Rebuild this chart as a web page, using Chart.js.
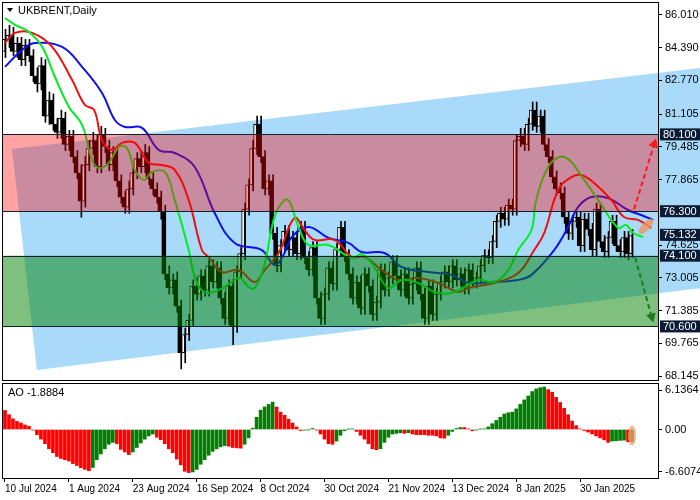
<!DOCTYPE html>
<html><head><meta charset="utf-8">
<script src="https://cdn.jsdelivr.net/npm/chart.js@4"></script>
<style>body{margin:0;background:#fff}#w{position:relative;width:700px;height:500px}canvas{position:absolute;left:0}</style>
</head><body><div id="w"><canvas id="m" width="700" height="382" style="top:0"></canvas><canvas id="a" width="700" height="118" style="top:382px"></canvas></div>
<script>
const title="UKBRENT,Daily";
const openP=[84.2,84.8,85.0,84.2,84.6,83.8,84.5,84.0,83.0,82.6,83.5,81.0,81.8,80.6,80.2,80.9,79.6,80.0,79.0,78.2,76.8,78.6,79.4,79.8,78.5,80.1,79.5,78.6,79.2,77.8,77.0,76.5,77.4,78.2,78.9,78.5,79.2,77.9,77.4,77.0,76.3,73.2,72.5,72.9,71.6,69.3,70.2,70.9,72.6,72.2,73.1,72.4,73.6,72.8,73.5,72.0,71.0,72.6,70.6,73.3,74.2,76.4,77.6,79.4,80.6,79.0,77.4,77.8,75.2,73.6,74.6,75.3,74.4,75.0,74.2,75.5,74.0,73.4,74.5,72.0,71.0,72.2,73.5,72.7,74.4,75.5,74.1,73.2,72.0,72.8,71.5,73.2,72.6,71.2,71.8,73.4,72.4,73.0,73.8,73.1,72.4,73.2,72.0,72.7,73.5,72.2,71.0,72.6,71.2,72.2,72.8,73.3,72.8,73.6,72.9,73.2,72.5,73.4,72.8,73.0,73.6,74.1,74.0,74.8,75.8,76.2,75.9,76.6,76.4,79.8,80.0,79.6,80.6,81.3,80.5,81.0,79.6,79.0,78.0,77.4,77.2,76.0,75.2,75.8,76.0,74.6,75.9,75.4,74.4,76.4,74.8,74.3,75.0,75.8,74.6,74.3,75.0,74.2];
const closeP=[84.8,85.0,84.2,84.6,83.8,84.5,84.0,83.0,82.6,83.5,81.0,81.8,80.6,80.2,80.9,79.6,80.0,79.0,78.2,76.8,78.6,79.4,79.8,78.5,80.1,79.5,78.6,79.2,77.8,77.0,76.5,77.4,78.2,78.9,78.5,79.2,77.9,77.4,77.0,76.3,73.2,72.5,72.9,71.6,69.3,70.2,70.9,72.6,72.2,73.1,72.4,73.6,72.8,73.5,72.0,71.0,72.6,70.6,73.3,74.2,76.4,77.6,79.4,80.6,79.0,77.4,77.8,75.2,73.6,74.6,75.3,74.4,75.0,74.2,75.5,74.0,73.4,74.5,72.0,71.0,72.2,73.5,72.7,74.4,75.5,74.1,73.2,72.0,72.8,71.5,73.2,72.6,71.2,71.8,73.4,72.4,73.0,73.8,73.1,72.4,73.2,72.0,72.7,73.5,72.2,71.0,72.6,71.2,72.2,72.8,73.3,72.8,73.6,72.9,73.2,72.5,73.4,72.8,73.0,73.6,74.1,74.0,74.8,75.8,76.2,75.9,76.6,76.4,79.8,80.0,79.6,80.6,81.3,80.5,81.0,79.6,79.0,78.0,77.4,77.2,76.0,75.2,75.8,76.0,74.6,75.9,75.4,74.4,76.4,74.8,74.3,75.0,75.8,74.6,74.3,75.0,74.2,75.1];
const highP=[85.3,85.5,85.4,84.9,84.9,84.8,84.8,84.3,83.4,83.9,83.8,82.2,82.1,80.9,81.3,81.2,80.3,80.3,79.3,78.6,79.0,79.8,80.2,80.1,80.5,80.4,79.8,79.5,79.5,78.1,77.3,77.8,78.6,79.2,79.3,79.6,79.5,78.2,77.7,77.3,76.6,73.6,73.2,73.3,71.9,70.5,71.2,72.9,73.0,73.4,73.4,73.9,73.9,73.8,73.8,72.3,72.9,72.9,73.6,74.5,76.7,77.9,79.8,81.0,81.0,79.3,78.1,78.1,75.5,74.9,75.6,75.6,75.3,75.3,75.8,75.8,74.3,74.8,74.8,72.3,72.5,73.8,73.8,74.7,75.8,75.8,74.4,73.5,73.1,73.1,73.5,73.5,72.9,72.1,73.7,73.7,73.3,74.1,74.1,73.4,73.5,73.5,73.0,73.8,73.8,72.5,72.9,72.9,72.5,73.1,73.6,73.6,73.9,73.9,73.5,73.5,73.7,73.7,73.3,73.9,74.4,74.4,75.1,76.1,76.5,76.5,76.9,76.9,80.1,80.4,80.4,80.9,81.7,81.7,81.3,81.3,79.9,79.3,78.3,77.7,77.5,76.3,76.1,76.3,76.3,76.2,76.2,75.7,76.7,76.7,75.1,75.3,76.1,76.1,74.9,75.3,75.3,75.4];
const lowP=[83.9,84.4,84.0,83.9,83.5,83.5,83.7,82.7,82.2,82.3,80.7,80.6,80.3,79.9,79.9,79.3,79.3,78.7,77.9,76.0,76.5,78.3,79.1,78.2,78.2,79.2,78.3,78.3,77.5,76.7,76.2,76.2,77.1,77.9,78.2,78.2,77.6,77.1,76.7,75.9,72.9,72.2,72.2,71.3,68.5,68.8,69.9,70.6,71.9,71.9,72.1,72.1,72.5,72.5,71.7,70.7,70.7,69.7,70.3,73.0,73.9,76.1,77.3,79.1,78.7,77.1,77.1,74.9,73.3,73.3,74.3,74.1,74.1,73.9,73.9,73.7,73.1,73.1,71.7,70.7,70.7,71.9,72.4,72.4,74.1,73.8,72.9,71.7,71.7,71.2,71.2,72.3,70.9,70.9,71.5,72.1,72.1,72.7,72.8,72.1,72.1,71.7,71.7,72.4,71.9,70.7,70.7,70.9,70.9,71.9,72.5,72.5,72.5,72.6,72.6,72.2,72.2,72.5,72.5,72.7,73.3,73.7,73.7,74.5,75.5,75.6,75.6,76.1,76.1,79.5,79.3,79.3,80.3,80.2,80.2,79.3,78.7,77.7,77.1,76.9,75.7,74.9,74.9,75.5,74.3,74.3,75.1,74.1,74.1,74.5,74.0,74.0,74.7,74.3,74.0,74.0,73.9,74.0];
const greenIdx=[0,2.5,6,9.3,12.5,16,19.3,21.8,23.5,26,28.5,30.5,32.5,34.8,36.8,40,42.5,46,47.5,49.8,53.5,56.8,58.8,61,62.5,64.8,67.5,70,71.3,73.5,76,81,86.8,89.3,91.8,96,99.3,103.5,107.5,111.8,115,118.5,122.5,126,128.5,131.8,133,136,138.8,141.3,145,148.5,153.5,155.5,157.3,159.8];
const greenVal=[85.86,85.52,85.17,84.43,82.94,81.46,80.57,78.83,78.44,78.69,79.48,79.43,78.34,77.85,78.24,78.24,76.85,74.38,73.05,72.3,72.4,72.8,73.0,72.55,72.5,73.54,76.02,76.86,76.76,75.52,74.63,74.63,73.99,74.18,73.74,72.5,72.9,72.75,72.3,72.25,72.55,72.9,72.8,73.39,74.38,75.37,76.86,78.49,78.98,78.83,77.85,76.86,75.47,75.62,75.22,75.02];
const redIdx=[0,2.5,6.8,11.8,16.8,20,22.3,24.3,26.8,29.3,32.5,36,39.3,42.5,46,49.3,51,54.3,58.5,62.5,65,68.5,72.5,75,77.5,82.5,86.8,90,94.3,98.5,103.5,108.5,113.5,116,122.5,128.5,132.5,135,138.5,141.8,144.3,147.5,151.8,155,158.5,161.8];
const redVal=[84.62,85.12,85.12,84.43,82.79,81.56,81.31,79.82,79.33,79.68,79.68,78.69,78.59,78.34,76.85,74.38,74.03,73.29,73.39,72.8,73.39,74.23,75.97,75.37,74.88,74.88,74.04,74.04,73.39,72.9,73.0,72.75,72.3,72.5,72.75,73.24,74.38,75.22,77.35,77.99,78.09,77.7,76.86,76.01,75.87,75.47];
const blueIdx=[0,4.3,7.5,14.3,19.3,24.3,27.5,30,34.3,38.5,42.5,47.5,52.5,57.5,64.3,67.5,70,71.8,76,81,86,89.3,95,99.3,106,111.8,116,121.8,128.5,131.8,137.5,141,143.5,146.8,151,156,159.3,162.3];
const blueVal=[83.44,84.28,84.62,84.43,83.44,82.15,80.81,80.47,80.42,79.33,79.18,78.49,76.21,74.73,74.38,73.64,74.23,75.02,75.52,74.98,74.73,74.28,74.23,73.54,73.29,73.15,72.75,72.8,72.9,73.15,74.38,75.52,76.51,77.0,76.95,76.36,76.11,75.87];
const aoVal=[2.95,2.3,1.65,1.25,1.0,0.7,0.5,-0.1,-0.8,-1.5,-2.2,-3.0,-3.6,-4.2,-4.5,-4.7,-4.9,-5.3,-5.6,-5.95,-6.2,-6.4,-5.9,-4.7,-3.8,-3.0,-2.3,-2.0,-2.2,-3.1,-3.5,-3.9,-3.5,-2.8,-2.1,-1.5,-1.0,-0.7,-1.2,-1.6,-2.2,-3.0,-3.6,-4.6,-5.5,-6.5,-6.7,-6.6,-6.2,-5.4,-4.7,-4.0,-3.4,-3.0,-2.7,-2.5,-2.6,-2.8,-2.85,-2.9,-2.3,-1.3,0.2,1.9,3.0,3.5,3.9,4.25,3.5,2.7,2.2,1.6,1.0,0.4,-0.15,-0.1,-0.05,0.15,-0.1,-0.7,-1.5,-2.2,-2.3,-1.8,-0.9,-0.2,0.05,0.1,-0.3,-0.9,-1.5,-2.2,-3.0,-3.15,-3.0,-2.0,-1.2,-0.7,-0.6,-0.5,-0.6,-0.5,-0.7,-0.8,-0.8,-0.8,-0.9,-0.9,-1.0,-1.3,-1.35,-0.9,-0.3,0.15,0.3,0.3,0.1,-0.2,-0.05,0.05,0.1,0.4,0.9,1.4,1.9,2.4,2.6,2.7,3.2,3.9,4.6,5.2,5.9,6.3,6.5,6.6,6.2,5.8,5.0,4.2,3.3,2.3,1.3,0.6,0.1,-0.15,-0.4,-0.7,-1.0,-1.3,-1.6,-2.0,-1.8,-1.75,-1.7,-1.65,-1.9,-1.89];
const priceTicks=[86.010,84.390,82.770,81.105,79.485,77.865,74.625,73.005,71.385,69.765,68.145];
const levels=[80.100,76.300,74.100,70.600];
const boxLabels=[80.100,76.300,75.132,74.100,70.600];
const redZone=[76.3,80.1], greenZone=[70.6,74.1];
const channelIdx=[1.75,174.25,174.25,8], channelPrice=[79.38,83.39,72.5,68.44];
const upArrow={from:[157.5,76.4],to:[163,79.9]}, downArrow={from:[157.8,74.0],to:[162.3,70.8]};
const ellipseAt=[160.5,75.55];
const aoTicks=[6.1364,0,-6.6074], aoTickText=['6.1364','0.00','-6.6074'], aoLabel='AO -1.8884';
const dateIdx=[0,16,32,48,64,80,96,112,128,144];
const dateLabels=['10 Jul 2024','1 Aug 2024','23 Aug 2024','16 Sep 2024','8 Oct 2024','30 Oct 2024','21 Nov 2024','13 Dec 2024','8 Jan 2025','30 Jan 2025'];
const F='"Liberation Sans", Arial, sans-serif';
const N=closeP.length;
const wick=[],body=[],bodyFill=[];
for(let i=0;i<N;i++){wick.push({x:i,y:[lowP[i],highP[i]]});body.push({x:i,y:[openP[i],closeP[i]]});bodyFill.push(closeP[i]>=openP[i]?'#ffffff':'#000000');}
const pts=(a,b)=>a.map((x,k)=>({x,y:b[k]}));
const noPad=s=>{s.width=42;s.paddingTop=0;s.paddingBottom=0;};
function arrow(ctx,x1,y1,x2,y2,col){ctx.save();ctx.strokeStyle=col;ctx.fillStyle=col;ctx.lineWidth=2;ctx.setLineDash([5,3]);const a=Math.atan2(y2-y1,x2-x1);const hx=x2-9*Math.cos(a),hy=y2-9*Math.sin(a);ctx.beginPath();ctx.moveTo(x1,y1);ctx.lineTo(hx,hy);ctx.stroke();ctx.setLineDash([]);ctx.beginPath();ctx.moveTo(x2,y2);ctx.lineTo(hx+5*Math.sin(a),hy-5*Math.cos(a));ctx.lineTo(hx-5*Math.sin(a),hy+5*Math.cos(a));ctx.closePath();ctx.fill();ctx.restore();}
const mainPlug={id:'mp',
beforeDraw(c){const x=c.scales.x,y=c.scales.y,ctx=c.ctx;ctx.save();ctx.fillStyle='rgba(100,188,246,0.55)';ctx.beginPath();channelIdx.forEach((v,k)=>{const px=x.getPixelForValue(v),py=y.getPixelForValue(channelPrice[k]);k?ctx.lineTo(px,py):ctx.moveTo(px,py);});ctx.closePath();ctx.fill();ctx.restore();},
afterDatasetsDraw(c){const x=c.scales.x,y=c.scales.y,ctx=c.ctx,a=c.chartArea;ctx.save();
ctx.fillStyle='rgba(255,0,0,0.36)';let t=y.getPixelForValue(redZone[1]),b=y.getPixelForValue(redZone[0]);ctx.fillRect(a.left,t,a.right-a.left,b-t);
ctx.fillStyle='rgba(0,129,0,0.5)';t=y.getPixelForValue(greenZone[1]);b=y.getPixelForValue(greenZone[0]);ctx.fillRect(a.left,t,a.right-a.left,b-t);
ctx.strokeStyle='#10202e';ctx.lineWidth=1;levels.forEach(v=>{const p=Math.round(y.getPixelForValue(v))+0.5;ctx.beginPath();ctx.moveTo(a.left,p);ctx.lineTo(a.right,p);ctx.stroke();});
arrow(ctx,x.getPixelForValue(upArrow.from[0]),y.getPixelForValue(upArrow.from[1]),x.getPixelForValue(upArrow.to[0]),y.getPixelForValue(upArrow.to[1]),'#ff1a1a');
arrow(ctx,x.getPixelForValue(downArrow.from[0]),y.getPixelForValue(downArrow.from[1]),x.getPixelForValue(downArrow.to[0]),y.getPixelForValue(downArrow.to[1]),'#1e7a1e');
ctx.fillStyle='rgba(240,150,90,0.8)';ctx.beginPath();ctx.ellipse(x.getPixelForValue(ellipseAt[0]),y.getPixelForValue(ellipseAt[1]),10,4,-0.8,0,Math.PI*2);ctx.fill();
ctx.strokeStyle='#000';ctx.strokeRect(a.left-0.5,a.top-0.5,a.right-a.left+1,a.bottom-a.top+1);
ctx.fillStyle='#000';ctx.beginPath();ctx.moveTo(7,8);ctx.lineTo(13,8);ctx.lineTo(10,12);ctx.closePath();ctx.fill();
ctx.font='11px '+F;ctx.textBaseline='middle';ctx.fillText(title,18,11);
boxLabels.forEach(v=>{const p=y.getPixelForValue(v);ctx.fillStyle='#0b1b35';ctx.fillRect(a.right+2,p-6,40,12);ctx.fillStyle='#fff';ctx.textAlign='left';ctx.fillText(v.toFixed(3),a.right+5,p+0.5);});
ctx.restore();}};
new Chart(document.getElementById('m'),{data:{datasets:[
{type:'line',data:pts(greenIdx,greenVal),borderColor:'#00ee22',borderWidth:2,pointRadius:0,tension:0.4,order:1},
{type:'line',data:pts(redIdx,redVal),borderColor:'#ee1111',borderWidth:2,pointRadius:0,tension:0.4,order:1},
{type:'line',data:pts(blueIdx,blueVal),borderColor:'#1010ee',borderWidth:2,pointRadius:0,tension:0.4,order:1},
{type:'bar',data:wick,backgroundColor:'#000',barThickness:1,order:3},
{type:'bar',data:body,backgroundColor:bodyFill,borderColor:'#000',borderWidth:1,borderSkipped:false,barThickness:3,order:2}]},
options:{responsive:false,animation:false,devicePixelRatio:1,layout:{padding:{left:3,top:3,right:0,bottom:2}},plugins:{legend:{display:false},tooltip:{enabled:false}},
scales:{x:{type:'linear',offset:false,min:-0.5,max:163.5,display:false},
y:{position:'right',min:67.95,max:86.6,afterFit:noPad,afterBuildTicks:s=>{s.ticks=priceTicks.map(v=>({value:v}))},
ticks:{font:{family:F,size:11},color:'#000',padding:3,callback:v=>v.toFixed(3)},grid:{drawOnChartArea:false,tickLength:4,color:'#000'},border:{color:'#000'}}}},plugins:[mainPlug]});
const aoColors=aoVal.map((v,i)=>i>0&&v>aoVal[i-1]?'#008000':'#ff0000');
const aoPlug={id:'ap',afterDatasetsDraw(c){const x=c.scales.x,y=c.scales.y,ctx=c.ctx,a=c.chartArea;ctx.save();
ctx.fillStyle='rgba(245,160,100,0.75)';ctx.beginPath();ctx.ellipse(x.getPixelForValue(N-1),y.getPixelForValue(aoVal[N-1]/2),4,10,0,0,Math.PI*2);ctx.fill();
ctx.strokeStyle='#000';ctx.strokeRect(a.left-0.5,a.top-0.5,a.right-a.left+1,a.bottom-a.top+1);
ctx.fillStyle='#000';ctx.font='11px '+F;ctx.textBaseline='middle';ctx.fillText(aoLabel,8,a.top+9);ctx.restore();}};
new Chart(document.getElementById('a'),{type:'bar',data:{datasets:[{data:aoVal.map((v,i)=>({x:i,y:v})),backgroundColor:aoColors,barThickness:3}]},
options:{responsive:false,animation:false,devicePixelRatio:1,layout:{padding:{left:3,top:2,right:0,bottom:0}},plugins:{legend:{display:false},tooltip:{enabled:false}},
scales:{x:{type:'linear',offset:false,min:-0.5,max:163.5,afterFit:s=>{s.height=22;s.paddingLeft=0;s.paddingRight=0;},afterBuildTicks:s=>{s.ticks=dateIdx.map(v=>({value:v}))},
ticks:{font:{family:F,size:10},color:'#000',align:'start',padding:1,maxRotation:0,autoSkip:false,callback:v=>dateLabels[dateIdx.indexOf(v)]},grid:{drawOnChartArea:false,offset:false,tickLength:4,color:'#000'},border:{color:'#000'}},
y:{position:'right',min:-7.54,max:7.07,afterFit:noPad,afterBuildTicks:s=>{s.ticks=aoTicks.map(v=>({value:v}))},
ticks:{font:{family:F,size:11},color:'#000',padding:3,callback:v=>aoTickText[aoTicks.indexOf(v)]},grid:{drawOnChartArea:false,tickLength:4,color:'#000'},border:{color:'#000'}}}},plugins:[aoPlug]});
</script></body></html>
